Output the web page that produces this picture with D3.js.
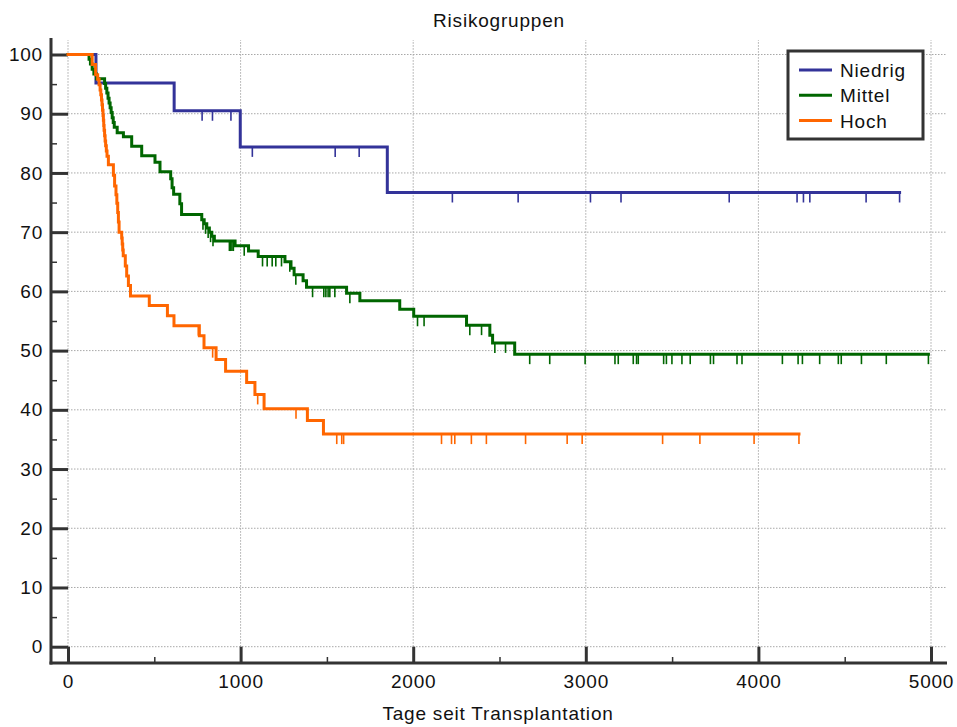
<!DOCTYPE html>
<html>
<head>
<meta charset="utf-8">
<script src="https://cdn.jsdelivr.net/npm/d3@7"></script>
<style>
  html, body { margin: 0; padding: 0; background: #fff; }
  text { font-family: "Liberation Sans", Arial, sans-serif; font-size: 19px; letter-spacing: 0.8px; fill: #111; }
</style>
</head>
<body>
<svg id="chart" width="957" height="727"></svg>
<script>
// ---------- data ----------
const title = "Risikogruppen";
const xLabel = "Tage seit Transplantation";
const groups = ["Niedrig", "Mittel", "Hoch"];
const colors = ["#333399", "#006600", "#ff6600"];
const xTicks = [0, 1000, 2000, 3000, 4000, 5000];
const xMinorTicks = [500, 1500, 2500, 3500, 4500];
const yTicks = [0, 10, 20, 30, 40, 50, 60, 70, 80, 90, 100];
const yMinorTicks = [5, 15, 25, 35, 45, 55, 65, 75, 85, 95];

// step events: [day, survival % after the step]
const niedrigSteps = [[0,100],[162,95.2],[615,90.5],[998,84.4],[1850,76.7]];
const niedrigEnd = 4818;
const niedrigCensored = [777, 837, 944, 1068, 1548, 1687, 2227, 2608, 3027, 3204, 3831, 4224, 4261, 4298, 4624, 4818];

const mittelSteps = [[0,100],[122,99.2],[130,98.4],[140,97.5],[150,96.7],[165,95.9],[212,95.1],[218,94.3],[225,93.5],
  [232,92.6],[238,91.8],[244,91.0],[250,90.2],[256,89.3],[262,88.5],[268,87.7],[285,86.8],[321,86.1],[369,84.5],
  [427,82.9],[504,81.8],[533,80.2],[595,79.0],[603,77.5],[612,76.4],[648,74.8],[658,73.0],[775,72.1],[789,71.4],
  [804,70.7],[819,70.0],[833,69.3],[848,68.5],[968,67.7],[1046,66.8],[1102,65.9],[1257,65.0],[1292,63.9],
  [1310,62.8],[1362,61.8],[1382,60.7],[1614,59.7],[1691,58.4],[1922,57.0],[2003,55.8],[2309,54.3],[2444,52.6],
  [2460,51.3],[2588,49.4]];
const mittelEnd = 4985;
const mittelCensored = [782, 797, 812, 826, 840, 935, 943, 950, 958, 1021, 1127, 1154, 1183, 1204, 1237, 1285, 1320,
  1417, 1482, 1494, 1507, 1517, 1546, 1633, 2025, 2063, 2328, 2396, 2473, 2535, 2675, 2791, 2996, 3169, 3188, 3275,
  3294, 3304, 3451, 3467, 3499, 3557, 3605, 3722, 3740, 3876, 3905, 4139, 4230, 4255, 4355, 4463, 4480, 4597, 4741, 4985];

const hochSteps = [[0,100],[140,98.3],[160,96.6],[172,95.8],[180,94.9],[186,94.0],[190,93.2],[194,92.3],[197,91.5],
  [200,90.6],[203,89.7],[205,88.9],[207,88.0],[209,87.2],[212,86.3],[215,85.4],[218,84.6],[222,83.7],[226,82.8],
  [234,81.4],[263,79.6],[270,77.8],[278,76.3],[283,74.9],[288,73.3],[292,71.7],[296,70.0],[311,69.0],[314,68.0],
  [317,67.0],[320,66.0],[332,64.3],[340,62.6],[350,61.0],[362,59.2],[471,57.6],[576,55.9],[614,54.2],[761,52.5],
  [788,50.5],[858,48.5],[913,46.5],[1035,44.6],[1083,42.6],[1136,40.2],[1387,38.2],[1480,35.9]];
const hochEnd = 4235;
const hochCensored = [755, 838, 1099, 1321, 1557, 1586, 1597, 2164, 2222, 2241, 2337, 2424, 2651, 2892, 2979, 3445, 3661, 3975, 4235];

const series = [
  {name: groups[0], color: colors[0], steps: niedrigSteps, end: niedrigEnd, cens: niedrigCensored},
  {name: groups[1], color: colors[1], steps: mittelSteps, end: mittelEnd, cens: mittelCensored},
  {name: groups[2], color: colors[2], steps: hochSteps, end: hochEnd, cens: hochCensored}
];

// ---------- layout ----------
const svg = d3.select("#chart");
const x = d3.scaleLinear().domain([0, 5000]).range([68, 931]);
const y = d3.scaleLinear().domain([0, 100]).range([646.7, 54.5]);
const axisColor = "#333";
const xLeft = 51, xRight = 947, yTop = 38, yBottom = 663;

// grid
const grid = svg.append("g").attr("stroke", "#a8a8a8").attr("stroke-width", 1).attr("stroke-dasharray", "1.5,1.5");
grid.selectAll("line.h").data(yTicks).join("line")
  .attr("x1", x(0)).attr("x2", xRight).attr("y1", d => y(d)).attr("y2", d => y(d));
grid.selectAll("line.v").data(xTicks).join("line")
  .attr("y1", y(0)).attr("y2", 40).attr("x1", d => x(d)).attr("x2", d => x(d));

// axes
const yAxis = d3.axisLeft(y).tickValues(yTicks).tickSize(-(x(0) - xLeft)).tickPadding(8).tickFormat(d3.format("d"));
const gy = svg.append("g").attr("transform", `translate(${xLeft},0)`).call(yAxis);
gy.select(".domain").remove();
gy.selectAll(".tick line").attr("stroke", axisColor).attr("stroke-width", 3);
gy.selectAll(".tick text").attr("font-size", null).attr("font-family", null).attr("fill", "#111");

const yMinor = d3.axisLeft(y).tickValues(yMinorTicks).tickSize(-6).tickFormat("");
const gym = svg.append("g").attr("transform", `translate(${xLeft},0)`).call(yMinor);
gym.select(".domain").remove();
gym.selectAll(".tick line").attr("stroke", axisColor).attr("stroke-width", 1.5);

const xAxis = d3.axisBottom(x).tickValues(xTicks).tickSize(-(yBottom - y(0))).tickPadding(12).tickFormat(d3.format("d"));
const gx = svg.append("g").attr("transform", `translate(0,${yBottom})`).call(xAxis);
gx.select(".domain").remove();
gx.selectAll(".tick line").attr("stroke", axisColor).attr("stroke-width", 3);
gx.selectAll(".tick text").attr("font-size", null).attr("font-family", null).attr("fill", "#111");

const xMinor = d3.axisBottom(x).tickValues(xMinorTicks).tickSize(-6).tickFormat("");
const gxm = svg.append("g").attr("transform", `translate(0,${yBottom})`).call(xMinor);
gxm.select(".domain").remove();
gxm.selectAll(".tick line").attr("stroke", axisColor).attr("stroke-width", 1.5);

// axis lines
svg.append("line").attr("x1", xLeft).attr("x2", xLeft).attr("y1", yTop).attr("y2", yBottom + 1.5)
  .attr("stroke", axisColor).attr("stroke-width", 3);
svg.append("line").attr("x1", xLeft - 1.5).attr("x2", xRight).attr("y1", yBottom).attr("y2", yBottom)
  .attr("stroke", axisColor).attr("stroke-width", 3);

// curves
const line = d3.line().x(d => x(d[0])).y(d => y(d[1])).curve(d3.curveStepAfter);
function valueAt(steps, t) {
  let v = steps[0][1];
  for (const s of steps) { if (s[0] <= t) v = s[1]; }
  return v;
}
series.forEach(s => {
  const pts = s.steps.concat([[s.end, s.steps[s.steps.length - 1][1]]]);
  const g = svg.append("g");
  g.append("path").attr("d", line(pts)).attr("fill", "none").attr("stroke", s.color)
    .attr("stroke-width", 3).attr("stroke-linejoin", "miter").attr("stroke-linecap", "square");
  g.selectAll("line").data(s.cens).join("line")
    .attr("x1", d => x(d)).attr("x2", d => x(d))
    .attr("y1", d => y(valueAt(s.steps, d))).attr("y2", d => y(valueAt(s.steps, d)) + 10)
    .attr("stroke", s.color).attr("stroke-width", 1.6);
});

// legend
const lg = svg.append("g");
lg.append("rect").attr("x", 788).attr("y", 51).attr("width", 135).attr("height", 88)
  .attr("fill", "#fff").attr("stroke", axisColor).attr("stroke-width", 3);
series.forEach((s, i) => {
  const yy = 70 + i * 25.3;
  lg.append("line").attr("x1", 799).attr("x2", 832).attr("y1", yy).attr("y2", yy)
    .attr("stroke", s.color).attr("stroke-width", 3);
  lg.append("text").attr("x", 840).attr("y", yy + 7).text(s.name);
});

// titles
svg.append("text").attr("x", 499).attr("y", 27).attr("text-anchor", "middle").text(title);
svg.append("text").attr("x", 498).attr("y", 720).attr("text-anchor", "middle").text(xLabel);
</script>
</body>
</html>
